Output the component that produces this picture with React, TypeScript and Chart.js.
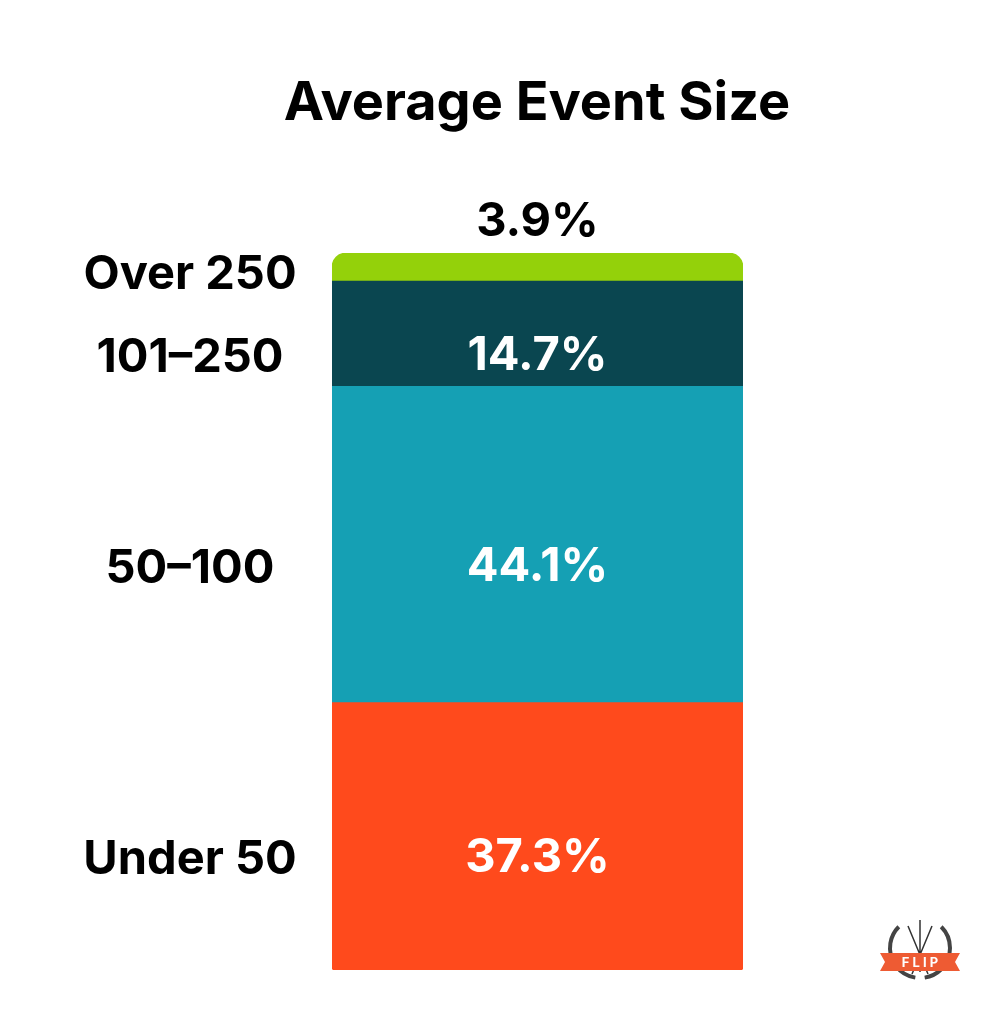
import React, { useEffect, useRef } from "react";
import { Chart, registerables } from "chart.js";

Chart.register(...registerables);

const title = "Average Event Size";
const categories = ["Under 50", "50–100", "101–250", "Over 250"];
const values = [37.3, 44.1, 14.7, 3.9];
const valueLabels = ["37.3%", "44.1%", "14.7%", "3.9%"];
const colors = ["#FF4A1C", "#15A0B4", "#0A4650", "#94D10A"];

const FONT = "Inter, 'Noto Sans', sans-serif";

const labelPlugin = {
  id: "segmentLabels",
  afterDatasetsDraw(chart: any) {
    const ctx = chart.ctx;
    const area = chart.chartArea;
    ctx.save();
    // title
    ctx.fillStyle = "#000";
    ctx.font = `700 54px ${FONT}`;
    ctx.textAlign = "center";
    ctx.textBaseline = "middle";
    ctx.fillText(title, 537, 104);

    chart.data.datasets.forEach((ds: any, i: number) => {
      const meta = chart.getDatasetMeta(i);
      const el = meta.data[0];
      if (!el) return;
      const top = Math.min(el.y, el.base);
      const bottom = Math.max(el.y, el.base);
      const center = (top + bottom) / 2;
      const isTop = i === chart.data.datasets.length - 1;
      ctx.font = `700 47px ${FONT}`;
      ctx.textAlign = "center";
      ctx.textBaseline = "middle";
      // category label on the left
      ctx.fillStyle = "#000";
      const catY = isTop ? center + 8 : center + 24;
      ctx.fillText(ds.label, area.left - 142, catY);
      // value label
      if (isTop) {
        ctx.fillStyle = "#000";
        ctx.fillText(valueLabels[i], el.x, top - 31);
      } else {
        ctx.fillStyle = "#fff";
        ctx.fillText(valueLabels[i], el.x, center + 22);
      }
    });

    // small logo bottom right
    const lx = 920, ly = 962;
    ctx.strokeStyle = "#444";
    ctx.lineWidth = 4;
    ctx.beginPath();
    ctx.arc(lx, ly - 14, 30, Math.PI * 0.55, Math.PI * 1.25);
    ctx.stroke();
    ctx.beginPath();
    ctx.arc(lx, ly - 14, 30, Math.PI * 1.75, Math.PI * 0.45);
    ctx.stroke();
    ctx.lineWidth = 1.5;
    ctx.strokeStyle = "#333";
    ctx.beginPath();
    ctx.moveTo(lx - 12, ly - 36);
    ctx.lineTo(lx + 8, ly + 12);
    ctx.moveTo(lx + 12, ly - 36);
    ctx.lineTo(lx - 8, ly + 12);
    ctx.moveTo(lx, ly - 42);
    ctx.lineTo(lx, ly + 10);
    ctx.stroke();
    ctx.fillStyle = "#EE5B33";
    ctx.beginPath();
    ctx.moveTo(lx - 40, ly - 9);
    ctx.lineTo(lx + 40, ly - 9);
    ctx.lineTo(lx + 35, ly);
    ctx.lineTo(lx + 40, ly + 9);
    ctx.lineTo(lx - 40, ly + 9);
    ctx.lineTo(lx - 35, ly);
    ctx.closePath();
    ctx.fill();
    ctx.fillStyle = "#fff";
    ctx.font = `700 13px ${FONT}`;
    ctx.fillText("F L I P", lx, ly + 1);
    ctx.restore();
  },
};

export default function App() {
  const ref = useRef<HTMLCanvasElement>(null);
  useEffect(() => {
    if (!ref.current) return;
    const chart = new Chart(ref.current, {
      type: "bar",
      data: {
        labels: [""],
        datasets: categories.map((c, i) => ({
          label: c,
          data: [values[i]],
          backgroundColor: colors[i],
          borderWidth: 0,
          borderSkipped: false,
          borderRadius:
            i === categories.length - 1
              ? { topLeft: 18, topRight: 18, bottomLeft: 0, bottomRight: 0 }
              : i === 0
              ? { topLeft: 0, topRight: 0, bottomLeft: 3, bottomRight: 3 }
              : 0,
          barPercentage: 1,
          categoryPercentage: 1,
        })),
      },
      options: {
        animation: false,
        responsive: true,
        maintainAspectRatio: false,
        layout: { padding: { left: 332, right: 248, top: 253, bottom: 54 } },
        plugins: {
          legend: { display: false },
          tooltip: { enabled: false },
          title: { display: false },
        },
        scales: {
          x: { stacked: true, display: false },
          y: { stacked: true, display: false, min: 0, max: 100 },
        },
      },
      plugins: [labelPlugin],
    });
    return () => chart.destroy();
  }, []);
  return (
    <div
      style={{
        position: "fixed",
        left: 0,
        top: 0,
        width: 991,
        height: 1024,
        background: "#fff",
      }}
    >
      <canvas ref={ref} />
    </div>
  );
}
